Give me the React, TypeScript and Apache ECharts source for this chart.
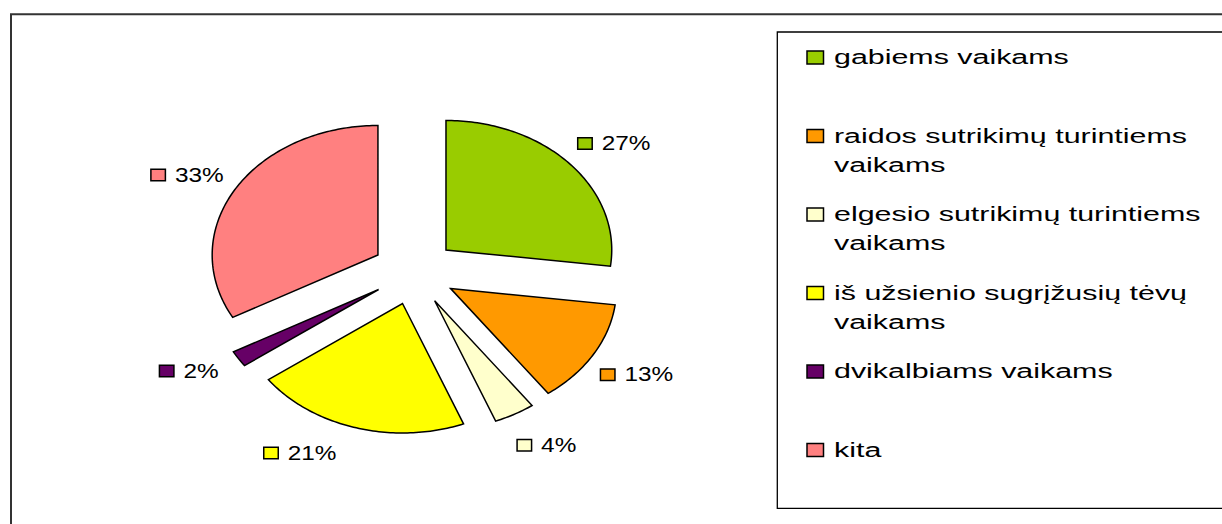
import React, { useEffect, useRef } from "react";
import * as echarts from "echarts";

// ---- data ----
const categories = [
  "gabiems vaikams",
  "raidos sutrikimų turintiems vaikams",
  "elgesio sutrikimų turintiems vaikams",
  "iš užsienio sugrįžusių tėvų vaikams",
  "dvikalbiams vaikams",
  "kita",
];
const legendLines = [
  "gabiems vaikams",
  "raidos sutrikimų turintiems\nvaikams",
  "elgesio sutrikimų turintiems\nvaikams",
  "iš užsienio sugrįžusių tėvų\nvaikams",
  "dvikalbiams vaikams",
  "kita",
];
const values = [27, 13, 4, 21, 2, 33];

// ---- styles ----
const COLORS = ["#99CC00", "#FF9900", "#FFFFCC", "#FFFF00", "#660066", "#FF8080"];
const FONT = "'Liberation Sans', Arial, sans-serif";

// pie geometry (drawn as a horizontally stretched ellipse)
const CX = 414.3;
const CY = 271.8;
const R = 129.5;
const SX = 1.28;
const EXPLODE = 33;
const LABEL_DIST = 202;
const LABEL_ANGLE_NUDGE = [2, 0, -2, 10, 3, -2];
const LABEL_FONT = 19.5;
const LABEL_SX = 1.25;
const LEGEND_FONT = 20;
const LEGEND_SX = 1.52;

const total = values.reduce((a, b) => a + b, 0);
const cumulative: number[] = [];
values.reduce((acc, v, i) => {
  cumulative[i] = acc;
  return acc + v;
}, 0);

function measure(text: string, size: number): number {
  const c = document.createElement("canvas").getContext("2d");
  if (!c) return text.length * size * 0.55;
  c.font = `${size}px 'Liberation Sans', Arial, sans-serif`;
  return c.measureText(text).width;
}

export default function App() {
  const ref = useRef<HTMLDivElement>(null);

  useEffect(() => {
    if (!ref.current) return;
    const chart = echarts.init(ref.current, undefined, { renderer: "svg" });

    const legendGraphics: any[] = [];
    legendLines.forEach((txt, i) => {
      const cy = 57.5 + i * 78.5;
      legendGraphics.push({
        type: "rect",
        shape: { x: 807, y: cy - 6.5, width: 16.5, height: 13 },
        style: { fill: COLORS[i], stroke: "#000", lineWidth: 1.5 },
        z: 10,
      });
      legendGraphics.push({
        type: "text",
        x: 834,
        y: cy - 14.5,
        scaleX: LEGEND_SX,
        z: 10,
        style: {
          text: txt,
          fontFamily: FONT,
          fontSize: LEGEND_FONT,
          lineHeight: 29,
          fill: "#000",
          align: "left",
          textAlign: "left",
          verticalAlign: "top",
          textVerticalAlign: "top",
        },
      });
    });

    const option: any = {
      animation: false,
      backgroundColor: "#fff",
      graphic: [
        {
          type: "rect",
          shape: { x: 11, y: 14.3, width: 1400, height: 700 },
          style: { fill: "none", stroke: "#333", lineWidth: 2 },
          z: 1,
        },
        {
          type: "rect",
          shape: { x: 777.3, y: 32, width: 600, height: 476.3 },
          style: { fill: "none", stroke: "#000", lineWidth: 1.3 },
          z: 1,
        },
        ...legendGraphics,
      ],
      series: [
        {
          type: "custom",
          coordinateSystem: "none",
          data: values.map((v, i) => ({ name: categories[i], value: v })),
          renderItem: (params: any, api: any) => {
            const i = params.dataIndex;
            const v = api.value(0) as number;
            const start = (cumulative[i] / total) * 360;
            const end = start + (v / total) * 360;
            const midDeg = (start + end) / 2;
            const mid = (midDeg * Math.PI) / 180;
            const ox = CX + SX * EXPLODE * Math.sin(mid);
            const oy = CY - EXPLODE * Math.cos(mid);
            const pts: number[][] = [[ox, oy]];
            const steps = Math.max(4, Math.ceil(end - start));
            for (let k = 0; k <= steps; k++) {
              const a = ((start + ((end - start) * k) / steps) * Math.PI) / 180;
              pts.push([ox + SX * R * Math.sin(a), oy - R * Math.cos(a)]);
            }

            const pct = Math.round((v / total) * 100) + "%";
            const la = ((midDeg + LABEL_ANGLE_NUDGE[i]) * Math.PI) / 180;
            const lx = CX + SX * LABEL_DIST * Math.sin(la);
            const ly = CY - LABEL_DIST * Math.cos(la);
            const tw = measure(pct, LABEL_FONT) * LABEL_SX;
            const mw = 14.5;
            const gap = 9.5;
            const w = mw + gap + tw;
            const left = lx - w / 2;

            return {
              type: "group",
              children: [
                {
                  type: "polygon",
                  shape: { points: pts },
                  style: { fill: COLORS[i], stroke: "#000", lineWidth: 1.5, lineJoin: "miter" },
                },
                {
                  type: "rect",
                  shape: { x: left, y: ly - 5.75, width: mw, height: 11.5 },
                  style: { fill: COLORS[i], stroke: "#000", lineWidth: 1.5 },
                },
                {
                  type: "text",
                  x: left + mw + gap,
                  y: ly,
                  scaleX: LABEL_SX,
                  style: {
                    text: pct,
                    fontFamily: FONT,
                    fontSize: LABEL_FONT,
                    fill: "#000",
                    align: "left",
                    textAlign: "left",
                    verticalAlign: "middle",
                    textVerticalAlign: "middle",
                  },
                },
              ],
            };
          },
        },
      ],
    };

    chart.setOption(option);
    return () => chart.dispose();
  }, []);

  return (
    <div
      ref={ref}
      style={{ position: "fixed", left: 0, top: 0, width: 1222, height: 524, background: "#fff" }}
    />
  );
}
